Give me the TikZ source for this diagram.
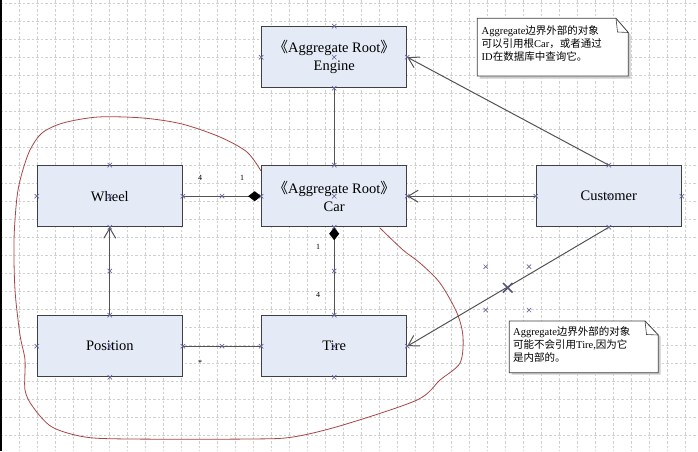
\documentclass[tikz,border=0pt]{standalone}
\usepackage{fontspec}
\setmainfont{Liberation Serif}
\newfontfamily\cjk{Noto Sans CJK SC}
\usetikzlibrary{arrows.meta}
\definecolor{boxfill}{HTML}{E4EBF6}
\definecolor{boxline}{HTML}{404040}
\definecolor{xcol}{HTML}{6A6A9C}
\definecolor{gridc}{HTML}{D0D0D0}
\definecolor{redc}{HTML}{A84646}
\tikzset{
  box/.style={draw=boxline, line width=1.1pt, fill=boxfill, minimum width=145pt, minimum height=61pt, inner sep=0pt, align=center, font=\fontsize{14.5}{18}\selectfont},
  conn/.style={draw=boxline!90, line width=1pt},
  openarr/.style={-{Straight Barb[length=10pt,width=12pt,line width=1pt]}},
  diam/.style={-{Diamond[length=13pt,width=10pt,color=black]}},
  mult/.style={font=\fontsize{8}{9}\selectfont, inner sep=0pt},
  notetxt/.style={font=\fontsize{10.5}{13}\selectfont, align=left, anchor=north west, inner sep=0pt},
  gridline/.style={draw=gridc, line width=0.5pt, dash pattern=on 2.5pt off 2pt},
  xm/.pic={\draw[xcol, line width=0.7pt] (-2.2,-2.2)--(2.2,2.2) (-2.2,2.2)--(2.2,-2.2);}
}
\begin{document}
\begin{tikzpicture}[x=1pt,y=-1pt]
\useasboundingbox (0,0) rectangle (698,451);
\fill[white] (0,0) rectangle (698,451);
% grid
\foreach \i in {0,...,38} \draw[gridline] ({19.3+18*\i},0) -- ({19.3+18*\i},451);
\foreach \j in {0,...,25} \draw[gridline] (0,{3.3+18*\j}) -- (698,{3.3+18*\j});
\draw[black, line width=2pt] (1,0) -- (1,451);
% red boundary curve
\draw[redc, line width=0.8pt] plot[smooth, tension=0.5] coordinates {
(261,171) (247,152) (220,137) (182,124) (143,118) (98,117) (63,123) (42,133) (30,150) (22,173) (17,197) (14,240) (15,290) (20,335) (25,360) (25,390) (33,407) (52,427) (85,437) (130,439) (250,439) (293,437) (343,425) (417,400) (440,380) (460,363) (463,337) (457,313) (440,283) (420,263) (403,250) (380,228)};
% boxes
\node[box] (engine) at (334.2,57.2) {{\cjk 《}Aggregate Root{\cjk 》}\\Engine};
\node[box] (car) at (334.2,196.2) {{\cjk 《}Aggregate Root{\cjk 》}\\Car};
\node[box] (wheel) at (109.8,196.2) {Wheel};
\node[box] (position) at (109.8,346.2) {Position};
\node[box] (tire) at (334.2,346.2) {Tire};
\node[box] (customer) at (608.8,196.2) {Customer};
% connectors
\draw[conn] (engine.south) -- (car.north);
\draw[conn, openarr] (customer.north) -- (engine.east);
\draw[conn, openarr] (customer.west) -- (car.east);
\draw[conn, openarr] (customer.south) -- (tire.east);
\draw[conn, diam] (wheel.east) -- (car.west);
\draw[conn, diam] (tire.north) -- (car.south);
\draw[conn, openarr] (position.north) -- (wheel.south);
\draw[conn] (position.east) -- (tire.west);
% multiplicities
\node[mult] (m1) at (200,178) {4};
\node[mult] (m2) at (242,178) {1};
\node[mult] (m3) at (318,247) {1};
\node[mult] (m4) at (318,295) {4};
\node[mult] (m5) at (200,363) {*};
% connection point markers
\foreach \n in {engine,car,wheel,position,tire,customer}{
  \pic at (\n.north) {xm}; \pic at (\n.south) {xm};
  \pic at (\n.east) {xm}; \pic at (\n.west) {xm};
  \pic at (\n.center) {xm};
}
\pic at (222,196.2) {xm};
\pic at (222,346.2) {xm};
\pic at (334.2,271) {xm};
\pic at (109.8,271) {xm};
% X marks
\pic at (485.7,266.7) {xm};
\pic at (529,266.7) {xm};
\pic at (485.7,310) {xm};
\pic at (529,310) {xm};
\draw[xcol!80!black, line width=1.6pt] (503,283) -- (512.5,292.5) (503,292.5) -- (512.5,283);
% note 1
\fill[black!20] (479.5,20.5) -- (617,20.5) -- (630.5,34.5) -- (630.5,78.5) -- (479.5,78.5) -- cycle;
\draw[boxline, line width=0.8pt, fill=white] (477.3,18.3) -- (616,18.3) -- (628.3,32.5) -- (628.3,76) -- (477.3,76) -- cycle;
\draw[boxline, line width=0.6pt] (616,18.3) -- (617.5,32) -- (628.3,32.5);
\node[notetxt] (note1) at (481.5,25.5) {Aggregate{\cjk 边界外部的对象}\\{\cjk 可以引用根}Car{\cjk ，或者通过}\\ID{\cjk 在数据库中查询它。}};
% note 2
\fill[black!20] (511.5,323) -- (647,323) -- (660.5,337) -- (660.5,374.7) -- (511.5,374.7) -- cycle;
\draw[boxline, line width=0.8pt, fill=white] (509.3,321) -- (645,321) -- (658.3,335) -- (658.3,372.7) -- (509.3,372.7) -- cycle;
\draw[boxline, line width=0.6pt] (645,321) -- (646.5,334.5) -- (658.3,335);
\node[notetxt] (note2) at (513,326) {Aggregate{\cjk 边界外部的对象}\\{\cjk 可能不会引用}Tire,{\cjk 因为它}\\{\cjk 是内部的。}};
\end{tikzpicture}
\end{document}
